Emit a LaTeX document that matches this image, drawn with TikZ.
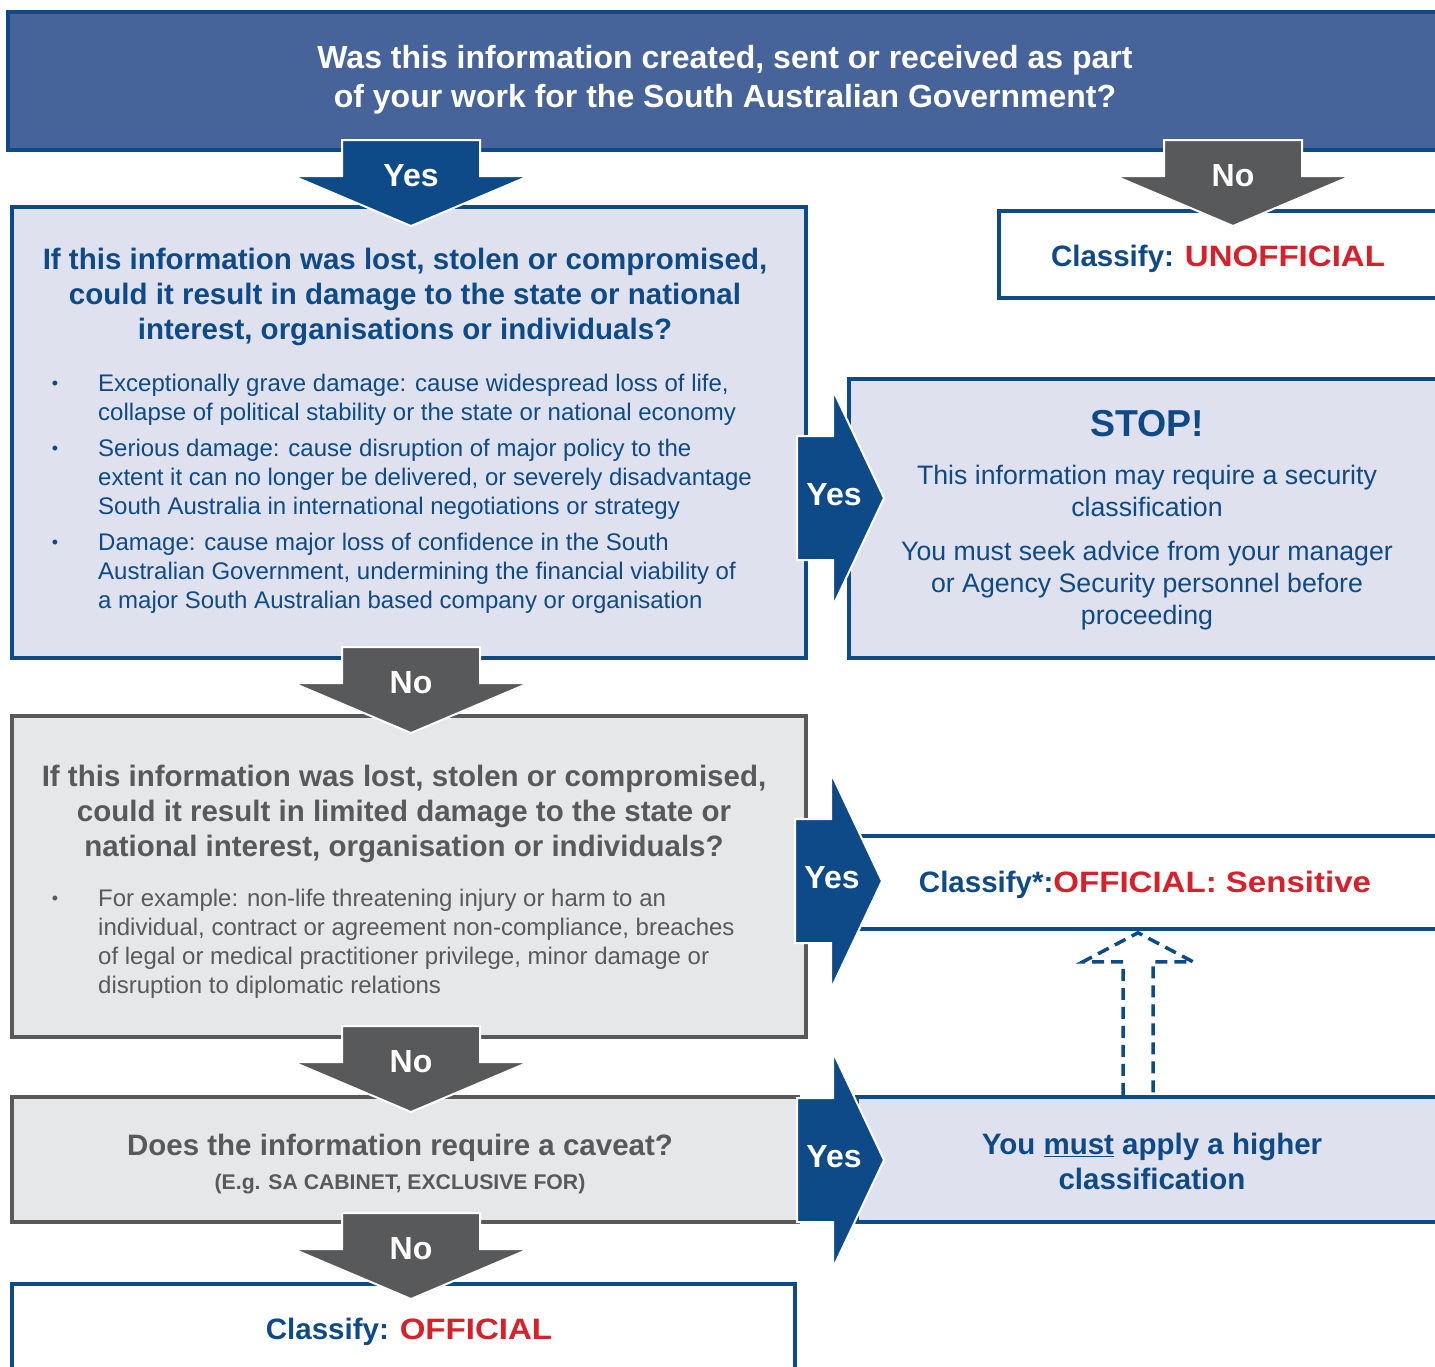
\documentclass[tikz,border=0pt]{standalone}
\usepackage{fontspec}
\setmainfont{Liberation Sans}
\usetikzlibrary{calc}
\definecolor{sablue}{HTML}{0D4A87}
\definecolor{satop}{HTML}{46649A}
\definecolor{salav}{HTML}{DFE2EE}
\definecolor{sagrey}{HTML}{58595B}
\definecolor{salight}{HTML}{E6E7E9}
\definecolor{sared}{HTML}{D7202A}
\newcommand{\redword}[1]{\textcolor{sared}{\scalebox{1.12}[1]{#1}}}

\begin{document}
\begin{tikzpicture}[x=1pt,y=-1pt,
		bluebox/.style={rectangle,draw=sablue,line width=4.5pt,fill=salav},
		whitebox/.style={rectangle,draw=sablue,line width=4.5pt,fill=white},
		greybox/.style={rectangle,draw=sagrey,line width=4.5pt,fill=salight},
		question/.style={font=\bfseries\fontsize{29.5}{35}\selectfont,align=center,inner sep=0pt},
		item/.style={font=\fontsize{24}{29}\selectfont,align=left,anchor=west,inner sep=0pt},
		dot/.style={font=\fontsize{18}{20}\selectfont,inner sep=0pt},
		advice/.style={font=\fontsize{26.7}{32}\selectfont,align=center,inner sep=0pt,text=sablue},
		result/.style={font=\bfseries\fontsize{29.5}{32}\selectfont,inner sep=0pt},
		arrowlabel/.style={font=\bfseries\fontsize{32}{34}\selectfont,text=white,inner sep=0pt},
		blockarrow/.style={draw=white,line width=2pt},
		updash/.style={draw=sablue,line width=3.5pt,dash pattern=on 12pt off 7pt}
		]
	\useasboundingbox (0,0) rectangle (1435,1366);
	\clip (0,0) rectangle (1435,1366);
	
	% boxes
	\node[rectangle,draw=sablue,line width=4.5pt,fill=satop,minimum width=1437pt,minimum height=138pt](top) at (726.5,81){};
	\node[question,text=white,font=\bfseries\fontsize{32}{39}\selectfont] (topq) at (725,79.5){Was this information created, sent or received as part\\of your work for the South Australian Government?};
	
	\node[bluebox,minimum width=794pt,minimum height=451pt](damage) at (409,432.5){};
	\node[question,text=sablue] (damageq) at (405,297){If this information was lost, stolen or compromised,\\could it result in damage to the state or national\\interest, organisations or individuals?};
	\node[dot,text=sablue] at (55,385){\textbullet};
	\node[item,text=sablue] (grave) at (98,399.5){Exceptionally grave damage: cause widespread loss of life,\\collapse of political stability or the state or national economy};
	\node[dot,text=sablue] at (55,450){\textbullet};
	\node[item,text=sablue] (serious) at (98,479){Serious damage: cause disruption of major policy to the\\extent it can no longer be delivered, or severely disadvantage\\South Australia in international negotiations or strategy};
	\node[dot,text=sablue] at (55,544){\textbullet};
	\node[item,text=sablue] (conf) at (98,573){Damage: cause major loss of confidence in the South\\Australian Government, undermining the financial viability of\\a major South Australian based company or organisation};
	
	\node[whitebox,minimum width=446pt,minimum height=87pt](unoff) at (1222,254.5){};
	\node[result] at (1218,259){\textcolor{sablue}{Classify:} \redword{UNOFFICIAL}};
	
	\node[bluebox,minimum width=596pt,minimum height=279pt](stop) at (1147,518.5){};
	\node[advice,font=\bfseries\fontsize{37.5}{40}\selectfont] at (1147,424){STOP!};
	\node[advice] at (1147,491){This information may require a security\\classification};
	\node[advice] at (1147,586){You must seek advice from your manager\\or Agency Security personnel before\\proceeding};
	
	\node[greybox,minimum width=794pt,minimum height=321pt](limited) at (409,876.5){};
	\node[question,text=sagrey] (limitedq) at (404,814){If this information was lost, stolen or compromised,\\could it result in limited damage to the state or\\national interest, organisation or individuals?};
	\node[dot,text=sagrey] at (55,900){\textbullet};
	\node[item,text=sagrey] (example) at (98,944){For example: non-life threatening injury or harm to an\\individual, contract or agreement non-compliance, breaches\\of legal or medical practitioner privilege, minor damage or\\disruption to diplomatic relations};
	
	\node[whitebox,minimum width=585pt,minimum height=93pt](sens) at (1152.5,882.5){};
	\node[result] at (1145,885){\textcolor{sablue}{Classify*:}\redword{OFFICIAL: Sensitive}};
	
	\node[greybox,minimum width=786pt,minimum height=125pt](caveat) at (405,1159.5){};
	\node[question,text=sagrey] at (400,1148){Does the information require a caveat?};
	\node[question,text=sagrey,font=\bfseries\fontsize{21.2}{23}\selectfont] at (400,1184){(E.g. SA CABINET, EXCLUSIVE FOR)};
	
	\node[bluebox,minimum width=588pt,minimum height=125pt](must) at (1151,1159.5){};
	\node[question,text=sablue] at (1152,1161.5){You \underline{must} apply a higher\\classification};
	
	\node[whitebox,minimum width=783pt,minimum height=96pt](official) at (403.5,1332){};
	\node[result] at (409,1332){\textcolor{sablue}{Classify:} \redword{OFFICIAL}};
	
	% block arrows
	\foreach \x/\y/\c/\t [count=\i] in {411/140/sablue/Yes, 1233/140/sagrey/No, 411/647/sagrey/No, 411/1026/sagrey/No, 411/1213/sagrey/No}{
		\draw[blockarrow,fill=\c,shift={(\x,\y)}] (-69,0) -- (69,0) -- (69,36) -- (118,36) -- (0,86) -- (-118,36) -- (-69,36) -- cycle;
		\node[arrowlabel](down\i) at ({\x},{\y+36}){\t};
	}
	\foreach \x/\y [count=\i] in {797/498, 795/881, 797/1160}{
		\draw[blockarrow,fill=sablue,shift={(\x,\y)}] (0,-62) -- (36,-62) -- (36,-108) -- (87,0) -- (36,108) -- (36,62) -- (0,62) -- cycle;
		\node[arrowlabel](right\i) at ({\x+37},{\y-3}){Yes};
	}
	
	\draw[updash,shift={($(must.north)+(-13,0)$)}] (-15,0) -- (-15,-133) -- (-55,-133) -- (0,-162) -- (55,-133) -- (15,-133) -- (15,0);
\end{tikzpicture}
\end{document}
